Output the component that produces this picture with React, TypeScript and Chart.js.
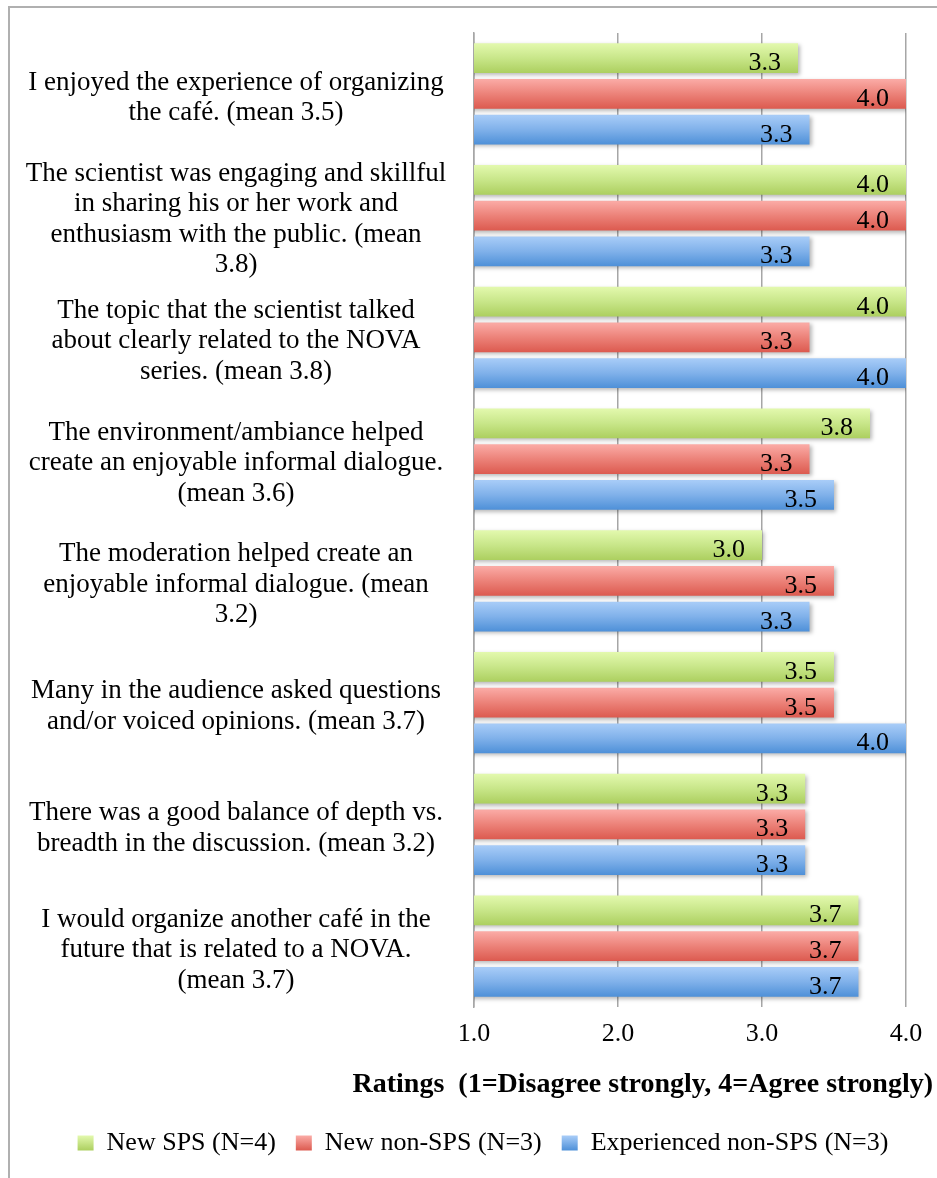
import { useEffect, useRef } from 'react';
import { Chart, registerables } from 'chart.js';

Chart.register(...registerables);

// Survey statements (pre-wrapped lines for the category axis)
const categories: string[][] = [
  ['I enjoyed the experience of organizing', 'the café. (mean 3.5)'],
  ['The scientist was engaging and skillful', 'in sharing his or her work and', 'enthusiasm with the public. (mean', '3.8)'],
  ['The topic that the scientist talked', 'about clearly related to the NOVA', 'series. (mean 3.8)'],
  ['The environment/ambiance helped', 'create an enjoyable informal dialogue.', '(mean 3.6)'],
  ['The moderation helped create an', 'enjoyable informal dialogue. (mean', '3.2)'],
  ['Many in the audience asked questions', 'and/or voiced opinions. (mean 3.7)'],
  ['There was a good balance of depth vs.', 'breadth in the discussion. (mean 3.2)'],
  ['I would organize another café in the', 'future that is related to a NOVA.', '(mean 3.7)'],
];

// Mean ratings per group
const newSps = [3.25, 4.0, 4.0, 3.75, 3.0, 3.5, 3.3, 3.67];
const newNonSps = [4.0, 4.0, 3.33, 3.33, 3.5, 3.5, 3.3, 3.67];
const experiencedNonSps = [3.33, 3.33, 4.0, 3.5, 3.33, 4.0, 3.3, 3.67];

const seriesNames = ['New SPS (N=4)', 'New non-SPS (N=3)', 'Experienced non-SPS (N=3)'];
const axisMin = 1;
const axisMax = 4;
const axisTitle = 'Ratings  (1=Disagree strongly, 4=Agree strongly)';

const SERIF = "'Liberation Serif', 'Times New Roman', serif";
const W = 937;
const H = 1178;
const PLOT_LEFT = 474;
const LABEL_CENTER = 236;
const LEGEND_SHIFT = 30;
const CAT_PCT = 0.88;
const BAR_PCT = 0.835;
const LABEL_FONT_SIZE = 27;

// top / middle / bottom gradient stops for each series
const palettes: string[][] = [
  ['#e3f9ae', '#c8e689', '#accf5f'],
  ['#fbaca7', '#ec8279', '#dc5a4f'],
  ['#a9cdf8', '#80b1ea', '#4e90d8'],
];

function barFill(ctx: any) {
  const stops = palettes[ctx.datasetIndex];
  const chart = ctx.chart;
  const y = chart.scales && chart.scales.y;
  if (ctx.type !== 'data' || !y) return stops[1];
  const cat = (y.bottom - y.top) / categories.length;
  const chunk = (cat * CAT_PCT) / 3;
  const center = y.getPixelForValue(ctx.dataIndex) + (ctx.datasetIndex - 1) * chunk;
  const half = (chunk * BAR_PCT) / 2;
  if (!isFinite(center) || !isFinite(half) || half <= 0) return stops[1];
  const g = chart.ctx.createLinearGradient(0, center - half, 0, center + half);
  g.addColorStop(0, stops[0]);
  g.addColorStop(0.5, stops[1]);
  g.addColorStop(1, stops[2]);
  return g;
}

const barShadow = {
  id: 'barShadow',
  beforeDatasetsDraw(chart: any) {
    const c = chart.ctx;
    c.save();
    c.shadowColor = 'rgba(0,0,0,0.28)';
    c.shadowBlur = 4;
    c.shadowOffsetX = 2;
    c.shadowOffsetY = 2;
  },
  afterDatasetsDraw(chart: any) {
    chart.ctx.restore();
  },
};

const valueLabels = {
  id: 'valueLabels',
  afterDatasetsDraw(chart: any) {
    const c = chart.ctx;
    c.save();
    c.font = `26px ${SERIF}`;
    c.fillStyle = '#000';
    c.textAlign = 'right';
    c.textBaseline = 'alphabetic';
    chart.data.datasets.forEach((ds: any, di: number) => {
      chart.getDatasetMeta(di).data.forEach((el: any, i: number) => {
        c.fillText(Number(ds.data[i]).toFixed(1), el.x - 17, el.y + 12);
      });
    });
    c.restore();
  },
};

const xAxisTitle = {
  id: 'xAxisTitle',
  afterDraw(chart: any) {
    const c = chart.ctx;
    const area = chart.chartArea;
    c.save();
    c.font = `bold 28px ${SERIF}`;
    c.fillStyle = '#000';
    c.textAlign = 'right';
    c.textBaseline = 'middle';
    c.fillText(axisTitle, area.right + 27, area.bottom + 78);
    c.restore();
  },
};

// legend row sits a little right of the canvas centre; boxes get the bar gradients
const legendStyle = {
  id: 'legendStyle',
  afterLayout(chart: any) {
    const legend = chart.legend;
    if (!legend) return;
    legend.left += LEGEND_SHIFT;
    legend.right += LEGEND_SHIFT;
  },
  beforeDraw(chart: any) {
    const legend = chart.legend;
    if (!legend || !legend.legendItems) return;
    const opts = legend.options.labels;
    const itemH = Math.max(opts.boxHeight, opts.font.size);
    const top = legend.top + opts.padding + (itemH - opts.boxHeight) / 2;
    legend.legendItems.forEach((item: any, i: number) => {
      const stops = palettes[i];
      const g = chart.ctx.createLinearGradient(0, top, 0, top + opts.boxHeight);
      g.addColorStop(0, stops[0]);
      g.addColorStop(1, stops[2]);
      item.fillStyle = g;
      item.strokeStyle = 'rgba(0,0,0,0)';
      item.lineWidth = 0;
    });
  },
};

export default function App() {
  const ref = useRef<HTMLCanvasElement>(null);

  useEffect(() => {
    if (!ref.current) return;

    const measure = document.createElement('canvas').getContext('2d')!;
    measure.font = `${LABEL_FONT_SIZE}px ${SERIF}`;
    let widest = 0;
    categories.forEach((lines) =>
      lines.forEach((l) => {
        widest = Math.max(widest, measure.measureText(l).width);
      })
    );
    const labelPadding = PLOT_LEFT - LABEL_CENTER - widest / 2;

    const chart = new Chart(ref.current, {
      type: 'bar',
      data: {
        labels: categories,
        datasets: [newSps, newNonSps, experiencedNonSps].map((values, i) => ({
          label: seriesNames[i],
          data: values,
          backgroundColor: barFill,
          borderWidth: 0,
          categoryPercentage: CAT_PCT,
          barPercentage: BAR_PCT,
        })),
      },
      options: {
        indexAxis: 'y',
        responsive: false,
        animation: false,
        events: [],
        layout: { padding: { top: 33, right: 31, left: 0, bottom: 12 } },
        scales: {
          x: {
            type: 'linear',
            position: 'bottom',
            min: axisMin,
            max: axisMax,
            ticks: {
              stepSize: 1,
              padding: 12,
              color: '#000',
              font: { family: SERIF, size: 26 },
              callback: (v: any) => Number(v).toFixed(1),
            },
            grid: { color: '#a6a6a6', lineWidth: 1.5, drawTicks: false },
            border: { display: false },
            afterFit: (s: any) => {
              s.height = 103;
              s.paddingLeft = 0;
              s.paddingRight = 0;
            },
          },
          y: {
            type: 'category',
            grid: { display: false, drawTicks: false },
            border: { display: true, color: '#a6a6a6', width: 1.5 },
            ticks: {
              autoSkip: false,
              crossAlign: 'center',
              padding: labelPadding,
              labelOffset: 4,
              color: '#000',
              font: { family: SERIF, size: LABEL_FONT_SIZE, lineHeight: 1.13 },
            },
            afterFit: (s: any) => {
              s.width = PLOT_LEFT;
              s.paddingTop = 0;
              s.paddingBottom = 0;
            },
          },
        },
        plugins: {
          legend: {
            position: 'bottom',
            labels: {
              boxWidth: 16,
              boxHeight: 15,
              padding: 20,
              color: '#000',
              font: { family: SERIF, size: 26 },
            },
          },
          tooltip: { enabled: false },
        },
      } as any,
      plugins: [barShadow, valueLabels, xAxisTitle, legendStyle],
    });

    return () => chart.destroy();
  }, []);

  return (
    <>
      <canvas
        ref={ref}
        width={W}
        height={H}
        style={{ position: 'fixed', left: 0, top: 0, width: W, height: H, background: '#fff' }}
      />
      <div
        style={{
          position: 'fixed',
          left: 8,
          top: 6,
          width: W - 8,
          height: H - 6,
          boxSizing: 'border-box',
          borderLeft: '2px solid #b0b0b0',
          borderTop: '2px solid #b0b0b0',
          pointerEvents: 'none',
        }}
      />
    </>
  );
}
